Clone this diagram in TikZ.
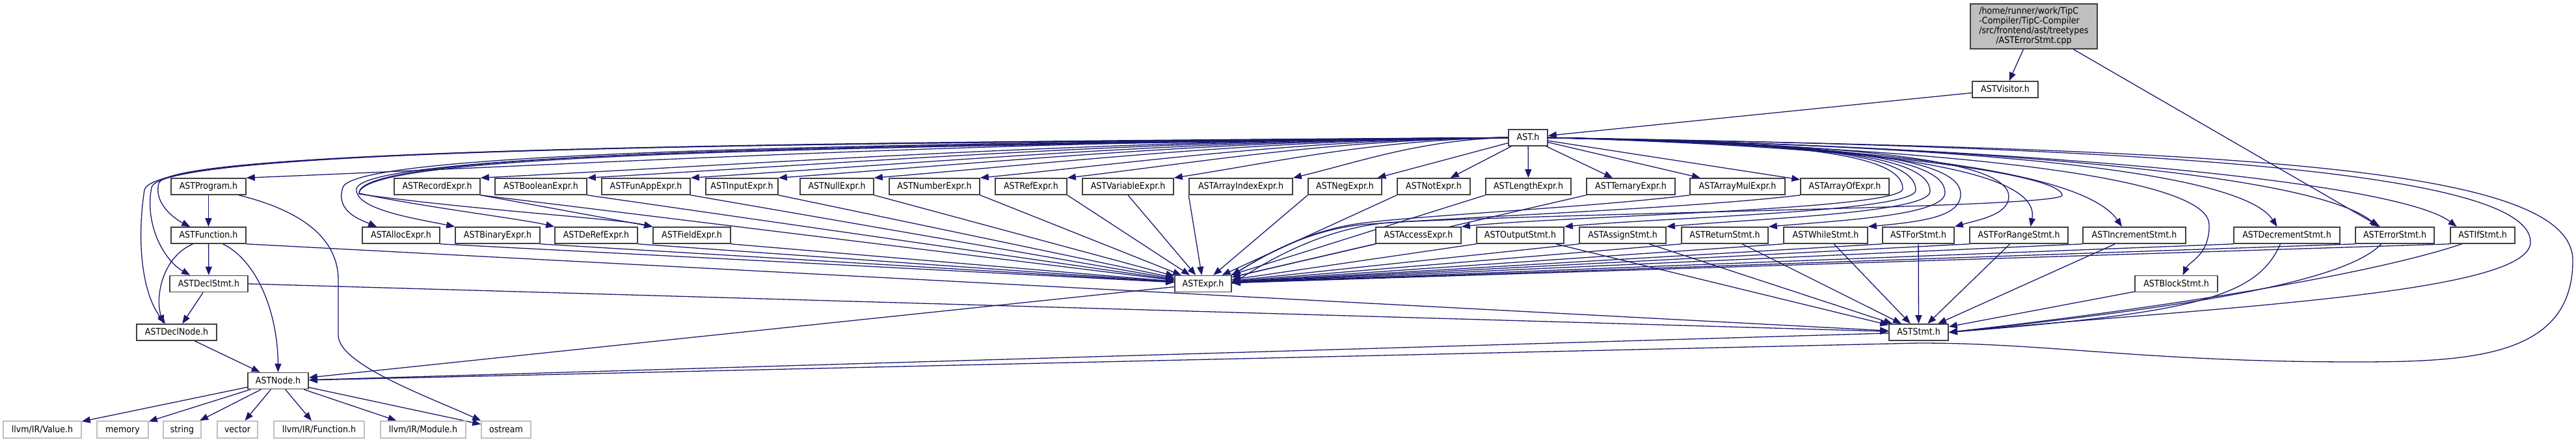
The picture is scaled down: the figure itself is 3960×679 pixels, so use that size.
\documentclass[tikz,border=0pt]{standalone}
\usepackage{fontspec}
\setmainfont{DejaVu Sans Condensed}
\usetikzlibrary{arrows.meta,calc}
\definecolor{edgec}{HTML}{191970}
\definecolor{filefill}{HTML}{BFBFBF}
\definecolor{bord}{HTML}{404040}
\definecolor{extb}{HTML}{BFBFBF}
\pgfdeclarelayer{bg}
\pgfsetlayers{bg,main}
\newcommand\mknode[6][box]{\node[#1, minimum width=#5*0.5pt] (#2) at (#3,#4) {#6};}
\tikzset{
  base/.style={draw=bord, line width=0.8pt, fill=white, inner sep=0pt, text=black},
  box/.style={base, minimum height=12.5pt, text height=5.3pt, text depth=1pt},
  ext/.style={box, draw=extb, minimum height=13pt},
  filebox/.style={base, fill=filefill, minimum height=34.5pt},
  dep/.style={draw=edgec, line width=0.65pt, -{Triangle[length=6.5pt,width=5pt]}}
}
\begin{document}
\begin{tikzpicture}[x=0.5pt, y=-0.5pt, font=\fontsize{7}{7.4}\selectfont]
\useasboundingbox (0,0) rectangle (3960,679);
% ---------- nodes ----------
\mknode[filebox]{file}{3126.5}{40.5}{195}{\begin{tabular}{@{}l@{}}/home/runner/work/TipC\\-Compiler/TipC-Compiler\\/src/frontend/ast/treetypes\\\multicolumn{1}{@{}c@{}}{/ASTErrorStmt.cpp}\end{tabular}}
\mknode{vis}{3082.5}{137.5}{101}{ASTVisitor.h}
\mknode{ast}{2349}{211.5}{60}{AST.h}
% row 1
\mknode{prog}{320.5}{286.5}{115}{ASTProgram.h}
\mknode{rec}{672}{286.5}{132}{ASTRecordExpr.h}
\mknode{bool}{831.5}{286.5}{141}{ASTBooleanExpr.h}
\mknode{funapp}{993}{286.5}{136}{ASTFunAppExpr.h}
\mknode{input}{1140.5}{286.5}{111}{ASTInputExpr.h}
\mknode{null}{1286.5}{286.5}{113}{ASTNullExpr.h}
\mknode{num}{1436.5}{286.5}{139}{ASTNumberExpr.h}
\mknode{ref}{1585}{286.5}{110}{ASTRefExpr.h}
\mknode{var}{1734}{286.5}{140}{ASTVariableExpr.h}
\mknode{aidx}{1907.5}{286.5}{159}{ASTArrayIndexExpr.h}
\mknode{neg}{2067.5}{286.5}{113}{ASTNegExpr.h}
\mknode{notx}{2204}{286.5}{112}{ASTNotExpr.h}
\mknode{len}{2349.5}{286.5}{131}{ASTLengthExpr.h}
\mknode{tern}{2507}{286.5}{136}{ASTTernaryExpr.h}
\mknode{amul}{2671}{286.5}{146}{ASTArrayMulExpr.h}
\mknode{aof}{2836}{286.5}{136}{ASTArrayOfExpr.h}
% row 2
\mknode{fun}{320.5}{361.5}{115}{ASTFunction.h}
\mknode{alloc}{616.5}{361.5}{119}{ASTAllocExpr.h}
\mknode{binx}{765}{361.5}{130}{ASTBinaryExpr.h}
\mknode{deref}{916.5}{361.5}{127}{ASTDeRefExpr.h}
\mknode{field}{1063.5}{361.5}{119}{ASTFieldExpr.h}
\mknode{acc}{2180.5}{361.5}{131}{ASTAccessExpr.h}
\mknode{outs}{2337}{361.5}{134}{ASTOutputStmt.h}
\mknode{asg}{2494.5}{361.5}{133}{ASTAssignStmt.h}
\mknode{ret}{2651.5}{361.5}{133}{ASTReturnStmt.h}
\mknode{whl}{2806.5}{361.5}{129}{ASTWhileStmt.h}
\mknode{fors}{2949}{361.5}{110}{ASTForStmt.h}
\mknode{frs}{3103.5}{361.5}{151}{ASTForRangeStmt.h}
\mknode{incs}{3281}{361.5}{158}{ASTIncrementStmt.h}
\mknode{decs}{3515.5}{361.5}{163}{ASTDecrementStmt.h}
\mknode{errs}{3681.5}{361.5}{121}{ASTErrorStmt.h}
\mknode{ifs}{3816.5}{361.5}{99}{ASTIfStmt.h}
% row 3
\mknode{dstmt}{321}{436}{120}{ASTDeclStmt.h}
\mknode{expr}{1849.5}{436}{87}{ASTExpr.h}
\mknode{blk}{3345.5}{436}{127}{ASTBlockStmt.h}
% row 4
\mknode{dnode}{271.5}{510.5}{123}{ASTDeclNode.h}
\mknode{stmt}{2949.5}{510.5}{91}{ASTStmt.h}
\mknode{nodeh}{427.5}{585}{93}{ASTNode.h}
% externals
\mknode[ext]{v}{65}{660}{120}{llvm/IR/Value.h}
\mknode[ext]{mem}{188.5}{660}{79}{memory}
\mknode[ext]{str}{280}{660}{58}{string}
\mknode[ext]{vec}{365}{660}{62}{vector}
\mknode[ext]{fn}{490.5}{660}{139}{llvm/IR/Function.h}
\mknode[ext]{mod}{650.5}{660}{131}{llvm/IR/Module.h}
\mknode[ext]{ostr}{778}{660}{76}{ostream}
% ---------- edges ----------
\begin{pgfonlayer}{bg}
\fill[white] (0,0) rectangle (3960,679);
\draw[dep] (file) -- (vis);
\draw[dep] (file) -- (errs);
\draw[dep] (vis) -- (ast);
% AST.h to row 1 (left)
\draw[dep] (ast.west) .. controls +(-776,3) and +(582,-24) .. (prog.north east);
\draw[dep] (ast.west) .. controls +(-632,3) and +(474,-24) .. (rec.north east);
\draw[dep] (ast.west) .. controls +(-567,3) and +(425,-24) .. (bool.north east);
\draw[dep] (ast.west) .. controls +(-503,3) and +(377,-24) .. (funapp.north east);
\draw[dep] (ast.west) .. controls +(-449,3) and +(337,-24) .. (input.north east);
\draw[dep] (ast.west) .. controls +(-390,3) and +(293,-24) .. (null.north east);
\draw[dep] (ast.west) .. controls +(-325,3) and +(244,-24) .. (num.north east);
\draw[dep] (ast.west) .. controls +(-272,3) and +(204,-24) .. (ref.north east);
\draw[dep] (ast.west) .. controls +(-206,3) and +(155,-24) .. (var.north east);
\draw[dep] (ast.west) .. controls +(-133,3) and +(100,-24) .. (aidx.north east);
\foreach \t in {neg,notx,len,tern,amul,aof} \draw[dep] (ast) -- (\t);
% AST.h to left loops
\draw[dep] (ast.west) .. controls (1200,218) and (255,230) .. (244,282) .. controls (236,312) and (268,336) .. ($(fun.north west)+(30,0)$);
\draw[dep] (ast.west) .. controls (1200,220) and (246,228) .. (233,288) .. controls (222,345) and (252,400) .. ($(dstmt.north west)+(32,0)$);
\draw[dep] (ast.west) .. controls (1200,222) and (236,224) .. (222,292) .. controls (210,370) and (218,450) .. ($(dnode.north west)+(45,0)$);
\draw[dep] (ast.west) .. controls (1300,220) and (545,234) .. (527,288) .. controls (515,325) and (555,338) .. ($(alloc.north west)+(23,0)$);
\draw[dep] (ast.west) .. controls (1300,222) and (560,236) .. (548,290) .. controls (545,322) and (640,336) .. (binx.north west);
\draw[dep] (ast.west) .. controls (1300,224) and (548,232) .. (552,297) .. controls (650,318) and (800,336) .. (deref.north west);
\draw[dep] (ast.west) .. controls (1300,226) and (548,234) .. (552,298) .. controls (720,322) and (950,336) .. (field.north west);
% AST.h to ASTExpr (right loop)
\draw[dep] (ast.east) .. controls (2900,226) and (3170,270) .. (3170,300) .. controls (3170,318) and (2500,325) .. (2150,341) .. controls (2040,346) and (1950,400) .. (expr.east);
% AST.h to row 2 (right loops)
\draw[dep] (ast.east) .. controls (2750,218) and (2925,235) .. (2925,290) .. controls (2925,322) and (2400,332) .. (acc.north east);
\draw[dep] (ast.east) .. controls (2760,218) and (2945,235) .. (2945,292) .. controls (2945,325) and (2560,334) .. (outs.north east);
\draw[dep] (ast.east) .. controls (2770,219) and (2967,236) .. (2967,294) .. controls (2967,327) and (2700,336) .. (asg.north east);
\draw[dep] (ast.east) .. controls (2780,219) and (2990,237) .. (2990,296) .. controls (2990,330) and (2840,338) .. (ret.north east);
\draw[dep] (ast.east) .. controls (2790,220) and (3014,238) .. (3014,298) .. controls (3014,332) and (2960,340) .. (whl.north east);
\draw[dep] (ast.east) .. controls (2800,220) and (3088,240) .. (3088,302) .. controls (3088,330) and (3040,338) .. (fors.north east);
\draw[dep] (ast.east) .. controls (2800,221) and (3140,250) .. ($(frs.north)+(18,0)$);
\draw[dep] (ast.east) .. controls (2850,222) and (3200,258) .. ($(incs.north)+(-19,0)$);
\draw[dep] (ast.east) .. controls (2950,222) and (3440,255) .. ($(decs.north)+(-15,0)$);
\draw[dep] (ast.east) .. controls (3050,224) and (3560,268) .. ($(errs.north)+(-26,0)$);
\draw[dep] (ast.east) .. controls (3150,226) and (3690,282) .. ($(ifs.north)+(-40,0)$);
\draw[dep] (ast.east) .. controls (2900,224) and (3395,262) .. (3396,345) .. controls (3397,392) and (3365,402) .. ($(blk.north)+(10,0)$);
\draw[dep] (ast.east) .. controls (3300,226) and (3890,262) .. (3890,372) .. controls (3890,452) and (3400,472) .. (stmt.east);
\draw[dep] (ast.east) .. controls (3400,230) and (3955,250) .. (3955,400) .. controls (3955,548) and (3800,556) .. (3620,556) .. controls (3300,556) and (3150,527) .. (2950,527) -- (nodeh);
% expressions to ASTExpr
\foreach \t in {rec,bool,funapp,input,null,num,ref,alloc,binx,deref,field} \draw[dep] (\t.south east) -- (expr);
\draw[dep] (var.south) -- (expr);
\draw[dep] (aidx.south west) -- (expr);
\foreach \t in {neg,notx,len,tern,acc} \draw[dep] (\t.south west) -- (expr);
\draw[dep] (amul.south west) .. controls (2450,318) and (2200,330) .. (2100,342) .. controls (2010,352) and (1940,395) .. (expr.north east);
\draw[dep] (aof.south west) .. controls (2600,320) and (2250,333) .. (2095,345) .. controls (2005,354) and (1935,398) .. (expr.north east);
\draw[dep] (rec.south east) -- (field.north west);
% statements
\foreach \t in {outs,asg,ret,whl,fors,frs,incs,decs,errs,ifs} \draw[dep] (\t.south west) -- (expr);
\foreach \t in {outs,asg,ret,whl,fors,frs,incs,blk} \draw[dep] (\t) -- (stmt);
\draw[dep] ($(decs.south)+(-10,0)$) .. controls (3470,455) and (3380,480) .. (stmt.east);
\draw[dep] ($(errs.south)+(-21,0)$) .. controls (3600,440) and (3300,478) .. (stmt.east);
\draw[dep] ($(ifs.south)+(-32,0)$) .. controls (3650,420) and (3350,470) .. (stmt.east);
\draw[dep] (dstmt.east) -- (stmt);
\draw[dep] (fun.south east) -- (stmt);
% left part
\draw[dep] (prog) -- (fun);
\draw[dep] (fun) -- (dstmt);
\draw[dep] ($(fun.south)+(-24,0)$) .. controls (250,395) and (238,455) .. ($(dnode.north west)+(42,0)$);
\draw[dep] ($(fun.south)+(22,0)$) .. controls (395,400) and (427,480) .. (nodeh.north);
\draw[dep] (dstmt) -- (dnode);
\draw[dep] (dnode) -- (nodeh);
\draw[dep] (expr) -- (nodeh);
\draw[dep] (stmt) -- (nodeh);
\draw[dep] ($(prog.south east)+(-12,0)$) .. controls (470,325) and (520,370) .. (520,430) -- (520,515) .. controls (520,560) and (660,610) .. (ostr.north west);
\foreach \t in {v,mem,str,vec,fn,mod,ostr} \draw[dep] (nodeh) -- (\t);
\end{pgfonlayer}
\end{tikzpicture}
\end{document}
